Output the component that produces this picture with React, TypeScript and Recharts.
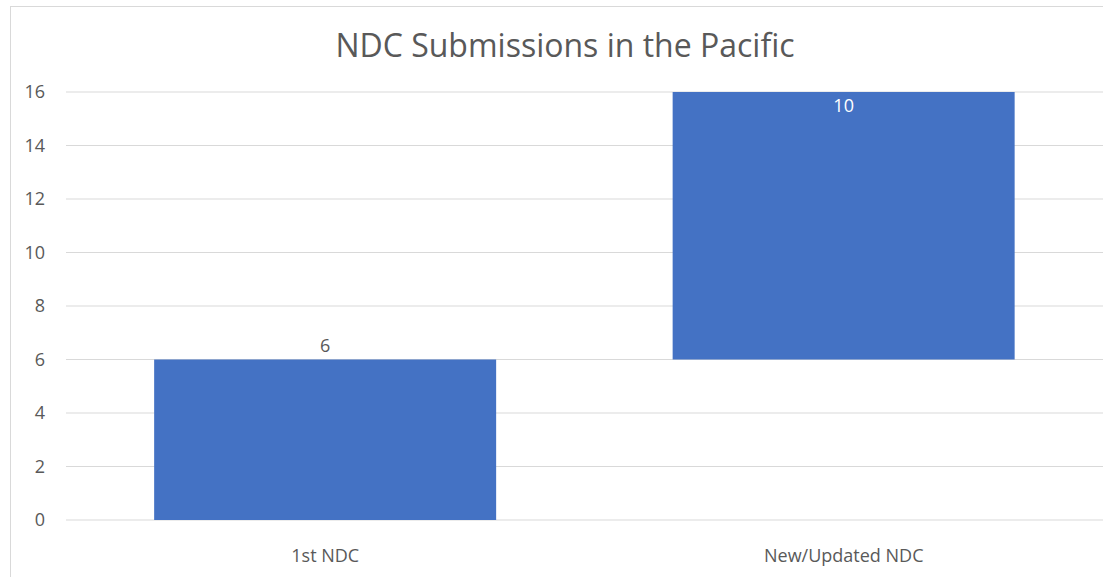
import React from 'react';
import { BarChart, Bar, XAxis, YAxis, CartesianGrid, LabelList } from 'recharts';

// waterfall: invisible base + visible step
const categories = ['1st NDC', 'New/Updated NDC'];
const baseValues = [0, 6];
const stepValues = [6, 10];
const yTicks = [0, 2, 4, 6, 8, 10, 12, 14, 16];

const data = categories.map((name, i) => ({
  name,
  base: baseValues[i],
  step: stepValues[i],
}));

const GREY = '#595959';
const BLUE = '#4472C4';
const FONT = '"Open Sans", "Noto Sans", sans-serif';

const StepLabel = (props: any) => {
  const { x, y, width, value, index } = props;
  const cx = Number(x) + Number(width) / 2;
  // first bar: label above; second: inside top in white
  if (index === 0) {
    return (
      <text x={cx} y={Number(y) - 15} textAnchor="middle" dominantBaseline="central"
        fill={GREY} fontSize={18} fontFamily={FONT}>
        {value}
      </text>
    );
  }
  return (
    <text x={cx} y={Number(y) + 13} textAnchor="middle" dominantBaseline="central"
      fill="#ffffff" fontSize={18} fontFamily={FONT}>
      {value}
    </text>
  );
};

export default function App() {
  return (
    <div style={{ position: 'absolute', left: 0, top: 0, width: 1103, height: 577, background: '#fff', overflow: 'hidden' }}>
      <div style={{
        position: 'absolute', left: 10, top: 6, width: 1110, height: 600,
        borderLeft: '1px solid #d9d9d9', borderTop: '1px solid #d9d9d9',
      }} />
      <div style={{
        position: 'absolute', left: 0, width: 1130, top: 25, textAlign: 'center',
        fontFamily: FONT, fontSize: 32, color: GREY, lineHeight: '40px',
      }}>
        NDC Submissions in the Pacific
      </div>
      <div style={{ position: 'absolute', left: 0, top: 0 }}>
        <BarChart width={1103} height={577} data={data}
          margin={{ top: 92, right: 0, left: 0, bottom: 27 }}
          barCategoryGap="17%">
          <CartesianGrid vertical={false} stroke="#d9d9d9" />
          <XAxis dataKey="name" height={30} axisLine={false} tickLine={false} tickSize={0} tickMargin={29}
            tick={{ fill: GREY, fontSize: 18, fontFamily: FONT }} />
          <YAxis width={66} domain={[0, 16]} ticks={yTicks} axisLine={false} tickLine={false}
            tickSize={0} tickMargin={21}
            tick={{ fill: GREY, fontSize: 18, fontFamily: FONT }} />
          <Bar dataKey="base" stackId="w" fill="transparent" isAnimationActive={false} />
          <Bar dataKey="step" stackId="w" fill={BLUE} isAnimationActive={false}>
            <LabelList dataKey="step" content={StepLabel} />
          </Bar>
        </BarChart>
      </div>
    </div>
  );
}
